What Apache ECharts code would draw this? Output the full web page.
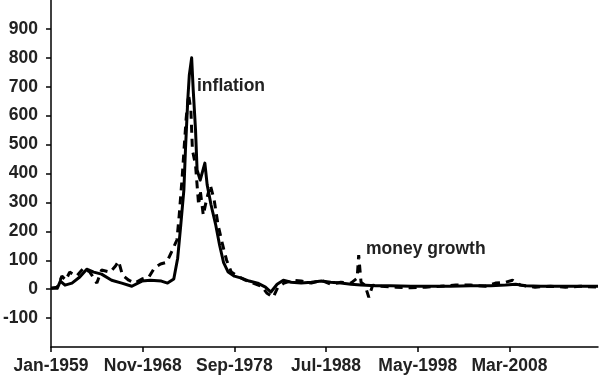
<!DOCTYPE html>
<html><head><meta charset="utf-8">
<script src="https://cdn.jsdelivr.net/npm/echarts@6/dist/echarts.min.js"></script>
<style>html,body{margin:0;padding:0;background:#fff}#c{width:600px;height:382px}</style>
</head><body><div id="c"></div>
<script>
// x positions are months since Jan-1959
const tickLabels = ['Jan-1959','Nov-1968','Sep-1978','Jul-1988','May-1998','Mar-2008'];
const tickStep = 118;
const inflMonth = [0,8,12,18,27,37,46,55,65,78,91,104,117,128,142,150,158,163,167,171,173,176,178,181,183,186,188,192,198,201,206,212,217,222,228,236,245,255,266,276,283,291,299,309,322,335,348,360,373,386,399,418,437,463,489,514,540,566,585,598,611,630,655,681,704];
const inflValue = [3,3,28,14,21,42,69,59,52,31,21,10,28,31,28,21,35,107,222,343,481,654,741,800,689,550,412,377,436,360,291,222,152,93,59,45,38,28,21,7,-10,17,31,24,21,24,28,24,21,17,14,12,12,10,10,10,12,12,14,17,12,10,10,10,10];
const moneyMonth = [0,8,14,19,24,33,42,50,59,65,76,83,87,92,100,108,117,126,133,141,149,155,162,165,169,172,174,177,180,182,186,190,192,196,200,205,210,215,221,226,232,240,250,260,271,278,286,292,300,312,322,335,348,360,373,386,394,396,399,404,409,414,425,444,463,482,501,521,540,559,572,585,594,604,623,643,662,681,704];
const moneyValue = [3,7,45,31,59,45,73,59,21,66,59,80,97,48,31,21,35,42,73,87,93,128,170,256,395,516,592,672,620,481,429,291,343,256,308,360,308,222,152,100,59,45,31,21,10,-14,-28,7,21,31,28,21,31,17,24,21,38,118,24,14,-28,14,10,7,5,7,10,14,14,10,21,24,31,14,7,10,7,10,7];

const pair = (xs, ys) => xs.map((x, i) => [x, ys[i]]);
const FONT = '"Liberation Sans", Arial, Helvetica, sans-serif';
const FS = 17.5;
const chart = echarts.init(document.getElementById('c'));
chart.setOption({
  animation: false,
  grid: {left: 49, right: 2, top: 0, bottom: 35, containLabel: false},
  xAxis: {
    type: 'value', min: 0, max: 704, interval: tickStep,
    axisLine: {show: true, onZero: false, lineStyle: {color: '#000', width: 1.5}},
    axisTick: {show: true, inside: false, length: 5, lineStyle: {color: '#000', width: 1.5}},
    splitLine: {show: false},
    axisLabel: {
      margin: 10, color: '#222', fontSize: FS, fontWeight: 'bold', fontFamily: FONT,
      showMaxLabel: false,
      formatter: v => tickLabels[Math.round(v / tickStep)] || ''
    }
  },
  yAxis: {
    type: 'value', min: -200, max: 1000, interval: 100,
    axisLine: {show: true, onZero: false, lineStyle: {color: '#000', width: 1.5}},
    axisTick: {show: true, inside: false, length: 5, lineStyle: {color: '#000', width: 1.5}},
    splitLine: {show: false},
    axisLabel: {
      margin: 13, color: '#222', fontSize: FS, fontWeight: 'bold', fontFamily: FONT,
      showMinLabel: false, showMaxLabel: false
    }
  },
  series: [
    {
      name: 'inflation', type: 'line', data: pair(inflMonth, inflValue),
      showSymbol: false, smooth: false,
      lineStyle: {color: '#000', width: 3, join: 'round'},
      z: 3
    },
    {
      name: 'money growth', type: 'line', data: pair(moneyMonth, moneyValue),
      showSymbol: false, smooth: false,
      lineStyle: {color: '#000', width: 3, type: [8, 6]},
      z: 2
    }
  ],
  graphic: [
    {type: 'text', left: 197, top: 77, style: {text: 'inflation', fill: '#222', font: 'bold ' + FS + 'px ' + FONT}},
    {type: 'text', left: 366, top: 240, style: {text: 'money growth', fill: '#222', font: 'bold ' + FS + 'px ' + FONT}}
  ]
});
</script>
</body></html>
